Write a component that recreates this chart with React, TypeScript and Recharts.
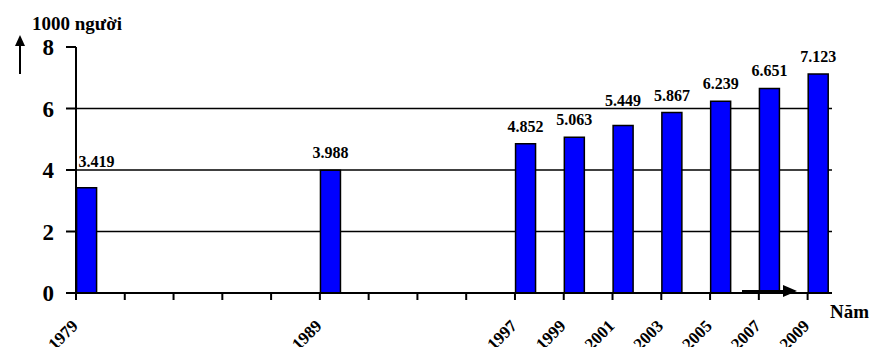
import { BarChart, Bar, XAxis, YAxis, CartesianGrid, LabelList } from "recharts";

// dân số (nghìn người) theo năm điều tra
const years = [1979, 1989, 1997, 1999, 2001, 2003, 2005, 2007, 2009];
const population = [3.419, 3.988, 4.852, 5.063, 5.449, 5.867, 6.239, 6.651, 7.123];

const yTicks = [0, 2, 4, 6, 8];
const gridValues = [2, 4, 6];
const xTicks = [1979, 1981, 1983, 1985, 1987, 1989, 1991, 1993, 1995, 1997, 1999, 2001, 2003, 2005, 2007, 2009];

const data = years.map((year, i) => ({ year, value: population[i] }));

const WIDTH = 873;
const HEIGHT = 347;
const Y_AXIS_WIDTH = 76;
const Y_MAX = 8;
const FONT = '"Liberation Serif", "Times New Roman", serif';

const YearTick = (props: any) => {
  const { x, y, payload } = props;
  if (!years.includes(payload.value)) return <g />;
  const tx = x + 3;
  const ty = y + 25;
  return (
    <text
      x={tx}
      y={ty}
      transform={`rotate(-45, ${tx}, ${ty})`}
      textAnchor="end"
      fontFamily={FONT}
      fontWeight="bold"
      fontSize={17}
      fill="#000"
    >
      {payload.value}
    </text>
  );
};

// value above the bar; lifted over a grid line when it would sit on it
const ValueLabel = (props: any) => {
  const { x, y, width, height, value } = props;
  const unit = height / value;
  const base = y + height;
  let labelY = y - 12;
  for (const g of gridValues) {
    const gy = base - g * unit;
    if (labelY > gy - 2 && labelY - 12 < gy + 2) labelY = gy - 3;
  }
  const cx = x + width / 2;
  const atStart = cx - 20 < Y_AXIS_WIDTH;
  return (
    <text
      x={atStart ? x + 2 : cx}
      y={labelY}
      textAnchor={atStart ? "start" : "middle"}
      fontFamily={FONT}
      fontWeight="bold"
      fontSize={16}
      fill="#000"
    >
      {value.toFixed(3)}
    </text>
  );
};

const gridRows = ({ offset }: any) =>
  gridValues.map((v) => offset.top + offset.height * (1 - v / Y_MAX));

export default function App() {
  return (
    <div style={{ position: "absolute", left: 0, top: 0, width: WIDTH, height: HEIGHT, background: "#fff" }}>
      <BarChart width={WIDTH} height={HEIGHT} data={data} margin={{ top: 47, right: 41, bottom: 0, left: 0 }}>
        <CartesianGrid
          vertical={false}
          stroke="#000"
          strokeWidth={1.5}
          fill="none"
          horizontalCoordinatesGenerator={gridRows}
        />
        <XAxis
          xAxisId="years"
          dataKey="year"
          type="number"
          domain={[1979, 2010]}
          allowDataOverflow
          ticks={xTicks}
          interval={0}
          height={54}
          tickSize={7}
          tick={<YearTick />}
          axisLine={{ stroke: "#000", strokeWidth: 2 }}
          tickLine={{ stroke: "#000", strokeWidth: 2 }}
        />
        {/* bars sit just right of their year tick */}
        <XAxis
          xAxisId="bars"
          dataKey="year"
          type="number"
          domain={[1978.55, 2009.55]}
          allowDataOverflow
          height={0}
          hide
        />
        <YAxis
          domain={[0, Y_MAX]}
          ticks={yTicks}
          width={Y_AXIS_WIDTH}
          tickSize={10}
          tickMargin={12}
          axisLine={{ stroke: "#000", strokeWidth: 2 }}
          tickLine={{ stroke: "#000", strokeWidth: 2 }}
          tick={{ fill: "#000", fontSize: 23, fontWeight: "bold", fontFamily: FONT }}
        />
        <Bar
          xAxisId="bars"
          dataKey="value"
          barSize={20}
          fill="#0000FF"
          stroke="#000"
          strokeWidth={1.5}
          isAnimationActive={false}
        >
          <LabelList dataKey="value" content={<ValueLabel />} />
        </Bar>
      </BarChart>
      <svg
        width={WIDTH}
        height={HEIGHT}
        style={{ position: "absolute", left: 0, top: 0, pointerEvents: "none" }}
      >
        <text x={32} y={30} fontFamily={FONT} fontWeight="bold" fontSize={19} fill="#000">
          1000 người
        </text>
        <line x1={20} y1={74} x2={20} y2={44} stroke="#000" strokeWidth={2} />
        <polygon points="15,46 25,46 20,35" fill="#000" />
        <line x1={742} y1={291} x2={785} y2={291} stroke="#000" strokeWidth={2} />
        <polygon points="783,285 783,297 797,291" fill="#000" />
        <text x={830} y={318} fontFamily={FONT} fontWeight="bold" fontSize={19} fill="#000">
          Năm
        </text>
      </svg>
    </div>
  );
}
